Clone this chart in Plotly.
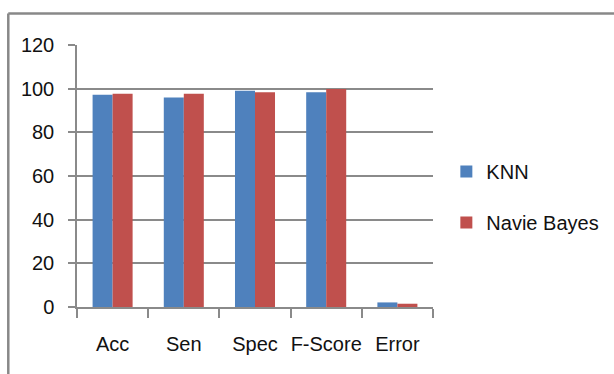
import plotly.graph_objects as go

# Classification metrics for the two models
categories = ["Acc", "Sen", "Spec", "F-Score", "Error"]
knn_values = [97.2, 95.9, 99.1, 98.4, 2.1]
bayes_values = [97.7, 97.7, 98.4, 99.8, 1.5]
y_ticks = [0, 20, 40, 60, 80, 100, 120]

FONT = "Liberation Sans, Arial, sans-serif"
FSIZE = 20
GRID = "#8a8a8a"

fig = go.Figure()
fig.add_trace(go.Bar(name="KNN", x=categories, y=knn_values,
                     marker=dict(color="#4F81BD", line=dict(width=0)),
                     legendgroup="a"))
fig.add_trace(go.Bar(name="Navie Bayes", x=categories, y=bayes_values,
                     marker=dict(color="#C0504D", line=dict(width=0)),
                     legendgroup="b"))

fig.update_layout(
    width=614, height=374,
    margin=dict(l=77, r=181, t=45, b=67, autoexpand=False),
    paper_bgcolor="white", plot_bgcolor="white",
    barmode="group", bargap=0.438, bargroupgap=0,
    font=dict(family=FONT, size=FSIZE, color="#111111"),
    showlegend=True,
    legend=dict(x=1.0375, y=0.42, xanchor="left", yanchor="middle",
                traceorder="grouped", tracegroupgap=22,
                font=dict(family=FONT, size=FSIZE),
                bgcolor="rgba(0,0,0,0)"),
    xaxis=dict(showline=True, linecolor=GRID, linewidth=1.5,
               ticks="outside", tickson="boundaries", ticklen=9,
               tickcolor=GRID, tickwidth=1.5, tickangle=0,
               showgrid=False, ticklabelstandoff=18, automargin=False,
               tickfont=dict(family=FONT, size=FSIZE)),
    yaxis=dict(range=[0, 120], tickvals=y_ticks,
               showline=True, linecolor=GRID, linewidth=1.5,
               ticks="outside", ticklen=7, tickcolor=GRID, tickwidth=1.5,
               showgrid=True, gridcolor=GRID, gridwidth=1.5,
               zeroline=False, ticklabelstandoff=10, automargin=False,
               tickfont=dict(family=FONT, size=FSIZE)),
)

# Outer chart frame (top and left edges)
fig.add_shape(type="line", xref="paper", yref="paper",
              x0=-0.193, x1=1.51, y0=1.12, y1=1.12,
              line=dict(color="#888888", width=2.5))
fig.add_shape(type="line", xref="paper", yref="paper",
              x0=-0.193, x1=-0.193, y0=1.12, y1=-0.3,
              line=dict(color="#888888", width=2.5))

fig.write_html("out.html")
